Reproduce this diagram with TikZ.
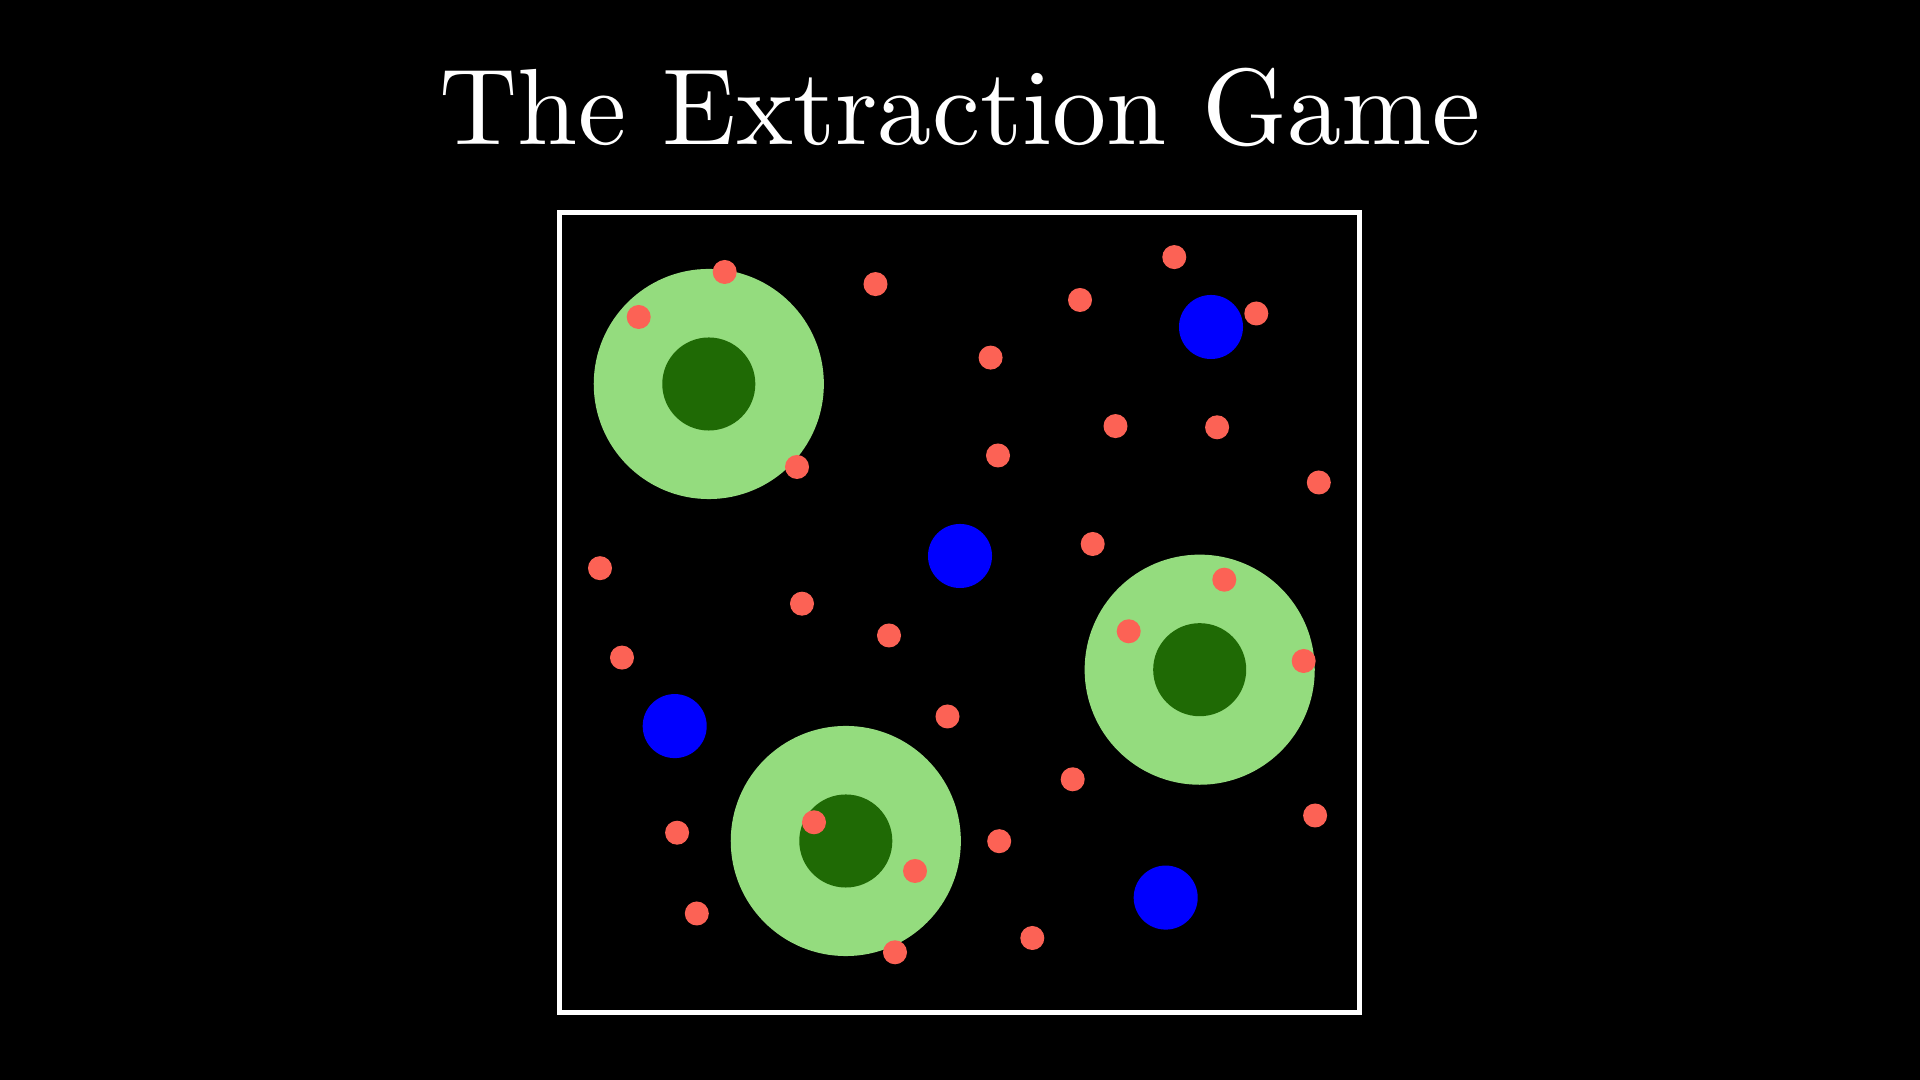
\documentclass[tikz,border=0pt]{standalone}
\usepackage{fontspec}
\newfontfamily\titlefont{lmroman10-regular.otf}
\definecolor{dotred}{HTML}{FC6255}
\definecolor{cellgreen}{HTML}{94DC7E}
\definecolor{coregreen}{HTML}{1F6A05}
\definecolor{agentblue}{HTML}{0000FF}
\begin{document}
\begin{tikzpicture}[x=0.01cm, y=-0.01cm]
	% Define styles
	\tikzstyle{cell} = [rectangle, fill=cellgreen, minimum size=23mm, rounded corners=11.5mm, inner sep=0pt]
	\tikzstyle{core} = [rectangle, fill=coregreen, minimum size=9.3mm, rounded corners=4.65mm, inner sep=0pt]
	\tikzstyle{agent} = [circle, fill=agentblue, minimum size=6.4mm, inner sep=0pt]
	\tikzstyle{resource} = [circle, fill=dotred, minimum size=2.4mm, inner sep=0pt]
	
	% Background
	\fill[black] (0,0) rectangle (1920,1080);
	\useasboundingbox (0,0) rectangle (1920,1080);
	
	% Title
	\node[text=white, anchor=base, font=\titlefont\fontsize{30.8}{37}\selectfont] (title) at (960,144.5) {The Extraction Game};
	
	% Arena
	\node[draw=white, line width=0.45mm, minimum size=79.95mm, inner sep=0pt] (arena) at (959.7,612.3) {};
	
	% Cells
	\node[cell] (cellA) at (708.8,384) {};
	\node[core] (coreA) at (cellA) {};
	\node[cell] (cellB) at (845.8,841) {};
	\node[core] (coreB) at (cellB) {};
	\node[cell] (cellC) at (1199.7,669.7) {};
	\node[core] (coreC) at (cellC) {};
	
	% Agents
	\node[agent] (agent1) at (1211,327) {};
	\node[agent] (agent2) at (960,556) {};
	\node[agent] (agent3) at (674.7,726.1) {};
	\node[agent] (agent4) at (1165.7,897.6) {};
	
	% Resources
	\foreach \x/\y [count=\i] in {724.7/272, 638.7/317, 797/467, 875.5/284.1, 1080/300,
		1174.3/257.1, 1256.3/313.5, 990.6/357.6, 1115.5/426.1, 1217.1/427.3,
		998/455.5, 1318.8/482.5, 1092.7/544, 1224.3/579.7, 1128.7/631.3,
		1303.7/661, 600/568.2, 802/603.7, 889/635.5, 622/657.6,
		947.5/716.5, 1072.7/779.3, 1315.1/815.5, 677.1/832.7, 814/822.3,
		915/871, 999.2/841.2, 696.8/913.5, 895/952.3, 1032.3/938}
		\node[resource] (res\i) at (\x,\y) {};
\end{tikzpicture}
\end{document}
